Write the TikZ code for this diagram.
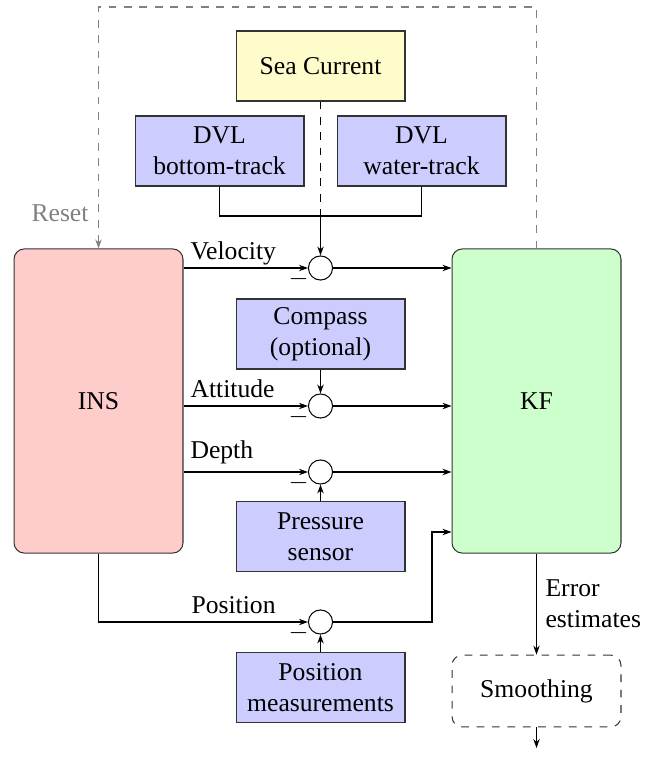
\documentclass[tikz,border=0pt]{standalone}
\usepackage{fontspec}
\setmainfont{Liberation Serif}
\usetikzlibrary{arrows.meta,positioning}

\tikzset{
  sensor/.style={draw=black!80, fill=blue!20, minimum width=65.9pt, minimum height=27.3pt, align=center, inner sep=2pt},
  current/.style={sensor, fill=yellow!20},
  filter/.style={draw=black!80, rounded corners=4pt, minimum width=65.9pt, minimum height=118.6pt},
  smoother/.style={draw=black!80, dashed, rounded corners=4pt, minimum width=65.9pt, minimum height=28pt},
  sumnode/.style={draw, circle, minimum size=9.4pt, inner sep=0pt},
  signal/.style={-{Stealth[length=3.5pt,width=2.5pt]}},
  resetline/.style={draw=gray, dashed},
  tag/.style={anchor=base west, inner sep=0pt},
  minus/.style={anchor=base, inner sep=0pt},
}

\begin{document}
\begin{tikzpicture}[x=0.39pt, y=-0.39pt]
  \useasboundingbox (0,0) rectangle (653,760);

  % main blocks
  \node[filter, fill=red!20] (ins) at (98.5,401) {INS};
  \node[filter, fill=green!20] (kf) at (536.5,401) {KF};

  % aiding sensors
  \node[current] (sea) at (320.5,66) {Sea Current};
  \node[sensor] (dvlbt) at (219.5,151) {DVL\\bottom-track};
  \node[sensor] (dvlwt) at (421.5,151) {DVL\\water-track};
  \node[sensor] (compass) at (320.5,334) {Compass\\(optional)};
  \node[sensor] (pressure) at (320.5,536.5) {Pressure\\sensor};
  \node[sensor] (posmeas) at (320.5,687.5) {Position\\measurements};
  \node[smoother] (smooth) at (536.5,691) {Smoothing};

  % summing points
  \node[sumnode] (sumvel) at (320.5,268) {};
  \node[sumnode] (sumatt) at (320.5,406) {};
  \node[sumnode] (sumdep) at (320.5,472) {};
  \node[sumnode] (sumpos) at (320.5,622) {};
  \node[minus] (minvel) at (298.5,285) {$-$};
  \node[minus] (minatt) at (298.5,423) {$-$};
  \node[minus] (mindep) at (298.5,489) {$-$};
  \node[minus] (minpos) at (298.5,639) {$-$};

  \coordinate (dvljoin) at (320.5,216);
  \coordinate (posbend) at (432,532);
  \coordinate (topline) at (0,7);
  \coordinate (out) at (536.5,748);

  % signal labels
  \node[tag] (lblvel) at (190,260) {Velocity};
  \node[tag] (lblatt) at (190,397) {Attitude};
  \node[tag] (lbldep) at (190,458) {Depth};
  \node[tag] (lblpos) at (191,613) {Position};
  \node[text=gray, anchor=east, inner sep=0pt] (lblreset) at (89,213) {Reset};

  % INS outputs into the summing points
  \draw[signal] (ins.east |- sumvel) -- (sumvel);
  \draw[signal] (ins.east |- sumatt) -- (sumatt);
  \draw[signal] (ins.east |- sumdep) -- (sumdep);
  \draw[signal] (ins.south) |- (sumpos);

  % differences into the KF
  \draw[signal] (sumvel) -- (sumvel -| kf.west);
  \draw[signal] (sumatt) -- (sumatt -| kf.west);
  \draw[signal] (sumdep) -- (sumdep -| kf.west);
  \draw[signal] (sumpos) -| (posbend) -- (posbend -| kf.west);

  % measurements
  \draw[dashed] (sea) -- (dvljoin);
  \draw (dvlbt) |- (dvljoin) -| (dvlwt);
  \draw[signal] (dvljoin) -- (sumvel);
  \draw[signal] (compass) -- (sumatt);
  \draw[signal] (pressure) -- (sumdep);
  \draw[signal] (posmeas) -- (sumpos);

  % reset and outputs
  \draw[resetline, signal] (kf.north) -- (kf.north |- topline) -| (ins.north);
  \draw[signal] (kf) -- node[right, align=left] (lblerr) {Error\\estimates} (smooth);
  \draw[signal] (smooth) -- (out);
\end{tikzpicture}
\end{document}
